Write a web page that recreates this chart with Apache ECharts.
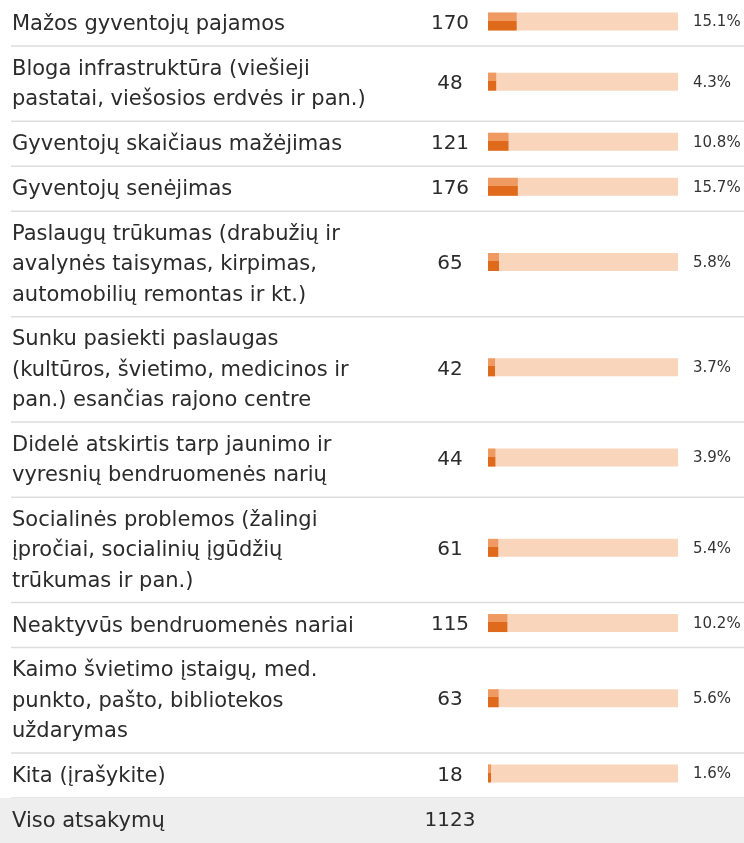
<!DOCTYPE html>
<html>
<head>
<meta charset="utf-8">
<script src="https://cdn.jsdelivr.net/npm/echarts@6/dist/echarts.min.js"></script>
<style>
  html, body { margin: 0; padding: 0; background: #fff; }
  #chart { width: 744px; height: 843px; }
</style>
</head>
<body>
<div id="chart"></div>
<script>
// atsakymų variantai (eilučių laužymas kaip paveiksle)
var labels = [
    'Mažos gyventojų pajamos',
    'Bloga infrastruktūra (viešieji\npastatai, viešosios erdvės ir pan.)',
    'Gyventojų skaičiaus mažėjimas',
    'Gyventojų senėjimas',
    'Paslaugų trūkumas (drabužių ir\navalynės taisymas, kirpimas,\nautomobilių remontas ir kt.)',
    'Sunku pasiekti paslaugas\n(kultūros, švietimo, medicinos ir\npan.) esančias rajono centre',
    'Didelė atskirtis tarp jaunimo ir\nvyresnių bendruomenės narių',
    'Socialinės problemos (žalingi\nįpročiai, socialinių įgūdžių\ntrūkumas ir pan.)',
    'Neaktyvūs bendruomenės nariai',
    'Kaimo švietimo įstaigų, med.\npunkto, pašto, bibliotekos\nuždarymas',
    'Kita (įrašykite)'
];
var counts = [170, 48, 121, 176, 65, 42, 44, 61, 115, 63, 18];
var percents = [15.1, 4.3, 10.8, 15.7, 5.8, 3.7, 3.9, 5.4, 10.2, 5.6, 1.6];
var totalLabel = 'Viso atsakymų';
var totalCount = 1123;

// eilutės aukštis: tarpai + teksto eilutės
var ROW_PAD = 15;
var LINE_H = 30.35;
var FONT = '"DejaVu Sans", sans-serif';

var rows = [];
var pos = 0;
labels.forEach(function (lab, i) {
    var h = ROW_PAD + LINE_H * lab.split('\n').length;
    rows.push([percents[i], pos, pos + h, counts[i], i]);
    pos += h;
});
var totalH = ROW_PAD + LINE_H;
rows.push([-1, pos, pos + totalH, totalCount, -1]);
pos += totalH;

function renderRow(params, api) {
    var i = api.value(4);
    var pct = api.value(0);
    var p0 = api.coord([0, api.value(1)]);
    var p1 = api.coord([100, api.value(2)]);
    var top = p0[1], bottom = p1[1];
    var mid = (top + bottom) / 2;
    var xs = p0[0], xe = p1[0];
    var children = [];

    if (i < 0) {
        children.push({ type: 'rect', shape: { x: 0, y: top, width: 744, height: bottom - top + 10 },
            style: { fill: '#eeeeee' } });
    }
    children.push({ type: 'text', style: {
        text: i < 0 ? totalLabel : labels[i], x: 12, y: mid + 1,
        verticalAlign: 'middle', font: '21px ' + FONT, lineHeight: LINE_H, fill: '#2b2b2b' } });
    children.push({ type: 'text', style: {
        text: String(api.value(3)), x: xs - 38, y: mid,
        align: 'center', verticalAlign: 'middle', font: '20px ' + FONT, fill: '#2b2b2b' } });

    if (i >= 0) {
        var by = mid - 11;
        var xf = api.coord([pct, 0])[0];
        children.push({ type: 'rect', shape: { x: xs, y: by, width: xe - xs, height: 18 },
            style: { fill: '#f8d5bb' } });
        children.push({ type: 'rect', shape: { x: xs, y: by, width: xf - xs, height: 18 },
            style: { fill: new echarts.graphic.LinearGradient(0, 0, 0, 1, [
                { offset: 0, color: '#ef9a63' }, { offset: 0.45, color: '#ef9a63' },
                { offset: 0.45, color: '#e06a1c' }, { offset: 1, color: '#e06a1c' }]) } });
        children.push({ type: 'text', style: {
            text: pct.toFixed(1) + '%', x: xe + 15, y: mid - 1,
            verticalAlign: 'middle', font: '15px ' + FONT, fill: '#333333' } });
        // skiriamoji linija
        children.push({ type: 'line', shape: { x1: 11, y1: bottom, x2: 744, y2: bottom },
            style: { stroke: '#dddddd', lineWidth: 1.5 } });
    }
    return { type: 'group', children: children };
}

var chart = echarts.init(document.getElementById('chart'), null, { renderer: 'canvas' });
chart.setOption({
    animation: false,
    grid: { left: 488, right: 66, top: 1, height: pos },
    xAxis: { type: 'value', min: 0, max: 100, show: false },
    yAxis: { type: 'value', min: 0, max: pos, inverse: true, show: false },
    series: [{
        type: 'custom',
        renderItem: renderRow,
        encode: { x: 0, y: [1, 2] },
        data: rows,
        clip: false,
        silent: true
    }]
});
</script>
</body>
</html>
